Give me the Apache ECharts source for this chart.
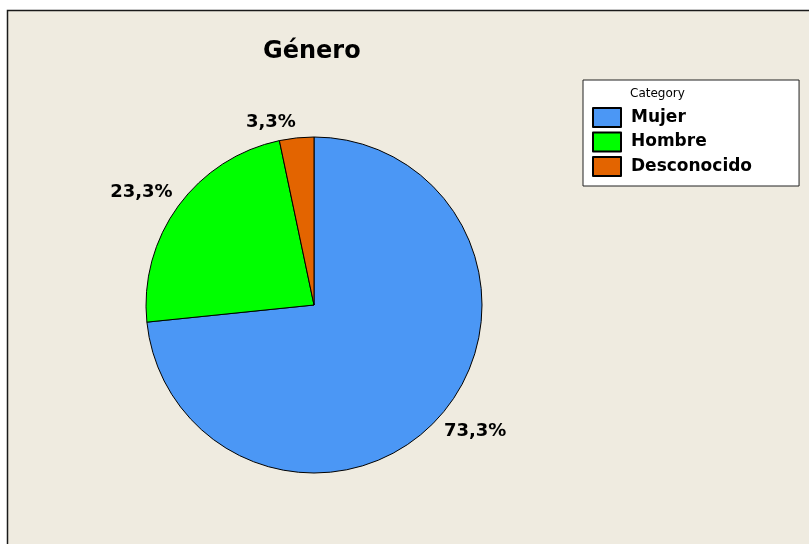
<!DOCTYPE html>
<html>
<head>
<meta charset="utf-8">
<script src="https://cdn.jsdelivr.net/npm/echarts@6/dist/echarts.min.js"></script>
<style>
  html, body { margin: 0; padding: 0; background: #ffffff; }
  #chart { width: 809px; height: 544px; }
</style>
</head>
<body>
<div id="chart"></div>
<script>
// Gender breakdown (percent of respondents)
const categories = ['Mujer', 'Hombre', 'Desconocido'];
const percents = [73.3, 23.3, 3.3];
const sliceColors = ['#4B97F5', '#00FF00', '#E36400'];

const PIE_CENTER = [314, 305];
const PIE_RADIUS = 168;
const LABEL_RADIUS = 175;

const total = percents.reduce((a, b) => a + b, 0);

function fmtPct(v) {
  return v.toFixed(1).replace('.', ',') + '%';
}

// Place each label's nearest corner on the slice's mid-angle ray
function layoutLabel(params) {
  let before = 0;
  for (let i = 0; i < params.dataIndex; i++) before += percents[i];
  const mid = (before + percents[params.dataIndex] / 2) / total * Math.PI * 2;
  const s = Math.sin(mid), c = Math.cos(mid);
  return {
    x: PIE_CENTER[0] + LABEL_RADIUS * s,
    y: PIE_CENTER[1] - LABEL_RADIUS * c,
    align: s >= 0 ? 'left' : 'right',
    verticalAlign: c < 0 ? 'top' : 'bottom'
  };
}

const chart = echarts.init(document.getElementById('chart'), null, { renderer: 'canvas' });

chart.setOption({
  animation: false,
  backgroundColor: '#ffffff',
  graphic: [{
    type: 'rect',
    z: -10,
    silent: true,
    shape: { x: 7.5, y: 10.5, width: 820, height: 560 },
    style: { fill: '#EFEBE0', stroke: '#1a1a1a', lineWidth: 1.5 }
  }],
  title: [{
    text: 'Género',
    left: 263,
    top: 40,
    textStyle: { fontFamily: 'DejaVu Sans', fontWeight: 'bold', fontSize: 24, color: '#000' },
    padding: 0
  }, {
    text: 'Category',
    left: 630,
    top: 88,
    padding: 0,
    z: 10,
    textStyle: { fontFamily: 'DejaVu Sans', fontWeight: 'normal', fontSize: 12, color: '#000' }
  }],
  legend: {
    orient: 'vertical',
    left: 583,
    top: 80,
    data: categories,
    icon: 'rect',
    itemWidth: 28,
    itemHeight: 19,
    itemGap: 3.5,
    padding: [27, 47, 9, 9],
    backgroundColor: '#ffffff',
    borderColor: '#222',
    borderWidth: 1,
    selectedMode: false,
    textStyle: {
      fontFamily: 'DejaVu Sans',
      fontWeight: 'bold',
      fontSize: 17,
      color: '#000',
      padding: [0, 0, 0, 5]
    }
  },
  series: [{
    type: 'pie',
    center: PIE_CENTER,
    radius: PIE_RADIUS,
    startAngle: 90,
    clockwise: true,
    silent: true,
    data: categories.map((name, i) => ({
      name: name,
      value: percents[i],
      itemStyle: { color: sliceColors[i] }
    })),
    itemStyle: { borderColor: '#000', borderWidth: 1 },
    label: {
      show: true,
      position: 'outside',
      formatter: (p) => fmtPct(p.value),
      fontFamily: 'DejaVu Sans',
      fontWeight: 'bold',
      fontSize: 18,
      color: '#000'
    },
    labelLine: { show: false },
    labelLayout: layoutLabel
  }]
});
</script>
</body>
</html>
